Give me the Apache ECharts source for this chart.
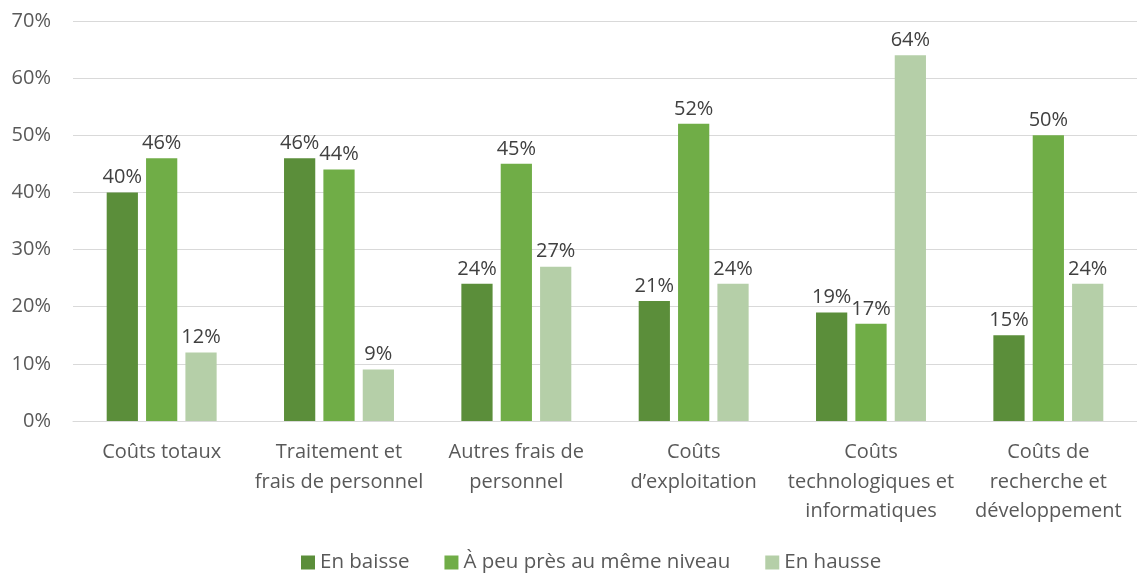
<!DOCTYPE html>
<html><head><meta charset="utf-8">
<script src="https://cdn.jsdelivr.net/npm/echarts@6/dist/echarts.min.js"></script>
<style>html,body{margin:0;padding:0;background:#fff}#c{width:1137px;height:576px}</style>
</head><body><div id="c"></div>
<script>
const categories = ["Coûts totaux", "Traitement et\nfrais de personnel", "Autres frais de\npersonnel", "Coûts\nd’exploitation", "Coûts\ntechnologiques et\ninformatiques", "Coûts de\nrecherche et\ndéveloppement"];
const seriesNames = ["En baisse", "À peu près au même niveau", "En hausse"];
const enBaisse = [40, 46, 24, 21, 19, 15];
const memeNiveau = [46, 44, 45, 52, 17, 50];
const enHausse = [12, 9, 27, 24, 64, 24];
const colors = ["#5B8E3A", "#70AD47", "#B5CFA8"];
const FONT = "Open Sans";
const FS = 20;
const chart = echarts.init(document.getElementById('c'));
const mk = (name, data, color) => ({
  name, type: 'bar', data,
  itemStyle: {color},
  barGap: '26%', barCategoryGap: '38%',
  label: {show: true, position: 'top', formatter: p => p.value + '%', color: '#404040', fontSize: FS, fontFamily: FONT, distance: 5}
});
chart.setOption({
  animation: false,
  textStyle: {fontFamily: FONT},
  grid: {left: 73, right: 0, top: 21, bottom: 155},
  legend: {
    bottom: -2, left: 296, itemWidth: 14, itemHeight: 14, itemGap: 35,
    textStyle: {color: '#595959', fontSize: 20.5, fontFamily: FONT},
    icon: 'rect',
    data: seriesNames
  },
  xAxis: {
    type: 'category', data: categories,
    axisLine: {lineStyle: {color: '#d9d9d9'}},
    axisTick: {show: false},
    axisLabel: {color: '#595959', fontSize: FS, fontFamily: FONT, lineHeight: 29.5, margin: 17, interval: 0}
  },
  yAxis: {
    type: 'value', min: 0, max: 70, interval: 10,
    axisLabel: {formatter: '{value}%', color: '#595959', fontSize: FS, fontFamily: FONT, margin: 22},
    splitLine: {lineStyle: {color: '#d9d9d9', width: 1}},
    axisLine: {show: false}, axisTick: {show: false}
  },
  series: [mk(seriesNames[0], enBaisse, colors[0]), mk(seriesNames[1], memeNiveau, colors[1]), mk(seriesNames[2], enHausse, colors[2])]
});
</script></body></html>
